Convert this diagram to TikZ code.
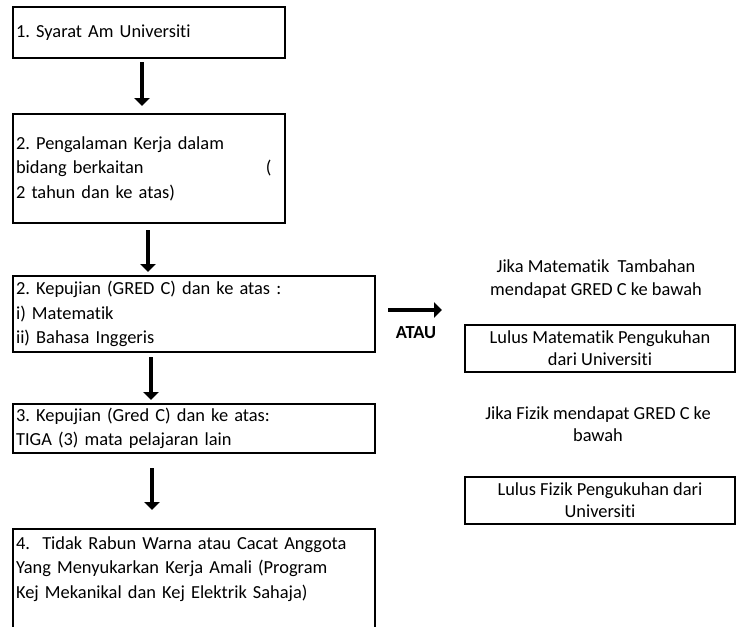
\documentclass[tikz,border=0pt]{standalone}
\usepackage{fontspec}
\setmainfont{Carlito}[Ligatures=NoCommon]
\usetikzlibrary{arrows.meta}
\frenchspacing
\tikzset{kotak/.style={draw, line width=1.6pt, anchor=north west, align=left,
  inner xsep=2.25pt, inner ysep=0pt, font=\fontsize{13.8}{18.4}\selectfont}}
\tikzset{kanan/.style={draw, line width=1.6pt, align=center, inner sep=0pt,
  minimum width=202.5pt, minimum height=35.25pt,
  font=\fontsize{13.8}{16.5}\selectfont}}
\tikzset{teks/.style={align=center, inner sep=0pt,
  font=\fontsize{13.8}{16.8}\selectfont}}
\tikzset{panah/.style={draw, line width=3.6pt, -{Triangle[width=11.5pt,length=6pt]}}}

\begin{document}
\begin{tikzpicture}[x=0.75pt, y=-0.75pt]
        \useasboundingbox (0,0) rectangle (738,626);
        %% left column
        \node (s1) at (12,6) [kotak, text width=199.5pt, minimum height=38.25pt]
            {\raisebox{-1.5pt}{1. Syarat Am Universiti}};
        \node (s2) at (12,113) [kotak, text width=199.5pt, minimum height=81.75pt]
            {2. Pengalaman Kerja dalam\\bidang berkaitan\hfill(\kern8pt\mbox{}\\2 tahun dan ke atas)};
        \node (s3) at (12,275) [kotak, text width=267pt, minimum height=57pt]
            {2. Kepujian (GRED C) dan ke atas :\\i) Matematik\\ii) Bahasa Inggeris};
        \node (s4) at (12,403) [kotak, text width=267pt, minimum height=36.75pt]
            {3. Kepujian (Gred C) dan ke atas:\\TIGA (3) mata pelajaran lain};
        \node (s5) at (12,528) [kotak, text width=267pt, inner ysep=5.5pt, text depth=80pt]
            {4.\ \ Tidak Rabun Warna atau Cacat Anggota\\Yang Menyukarkan Kerja Amali (Program\\Kej Mekanikal dan Kej Elektrik Sahaja)};
        \coordinate (a1) at (142,62);  \coordinate (b1) at (142,106);
        \coordinate (a2) at (148,230); \coordinate (b2) at (148,272);
        \coordinate (a3) at (151,357); \coordinate (b3) at (151,400);
        \coordinate (a4) at (152,468); \coordinate (b4) at (152,510);
        \draw [panah] (a1) to (b1);
        \draw [panah] (a2) to (b2);
        \draw [panah] (a3) to (b3);
        \draw [panah] (a4) to (b4);
        %% right column
        \coordinate (h1) at (388,310); \coordinate (h2) at (442,310);
        \draw [panah] (h1) to (h2);
        \node (atau) at (416,333) [font=\fontsize{13.8}{16}\selectfont\bfseries] {ATAU};
        \node (jm) at (596,279) [teks] {Jika Matematik\ \ Tambahan\\mendapat GRED C ke bawah};
        \node (lm) at (600,348.5) [kanan] {Lulus Matematik Pengukuhan\\dari Universiti};
        \node (jf) at (598,424) [teks] {Jika Fizik mendapat GRED C ke\\bawah};
        \node (lf) at (600,500.5) [kanan] {Lulus Fizik Pengukuhan dari\\Universiti};
\end{tikzpicture}
\end{document}
